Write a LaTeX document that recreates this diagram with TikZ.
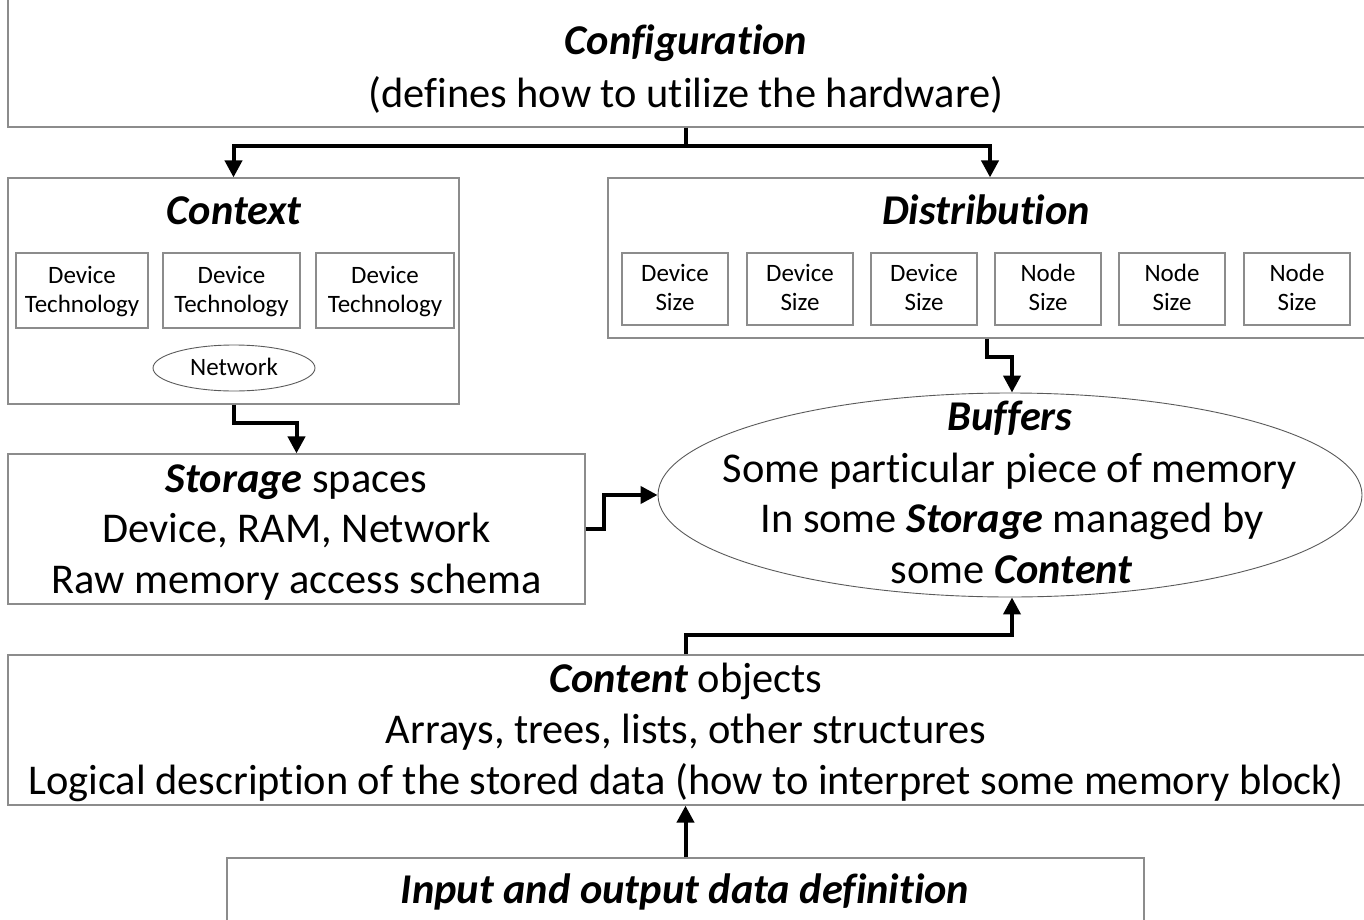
\documentclass[tikz,border=0pt]{standalone}
\usepackage{fontspec}
\setmainfont{Carlito}[Ligatures=NoCommon]
\usetikzlibrary{arrows.meta,shapes.geometric,calc}

\definecolor{boxline}{RGB}{140,140,140}
\definecolor{ovalline}{RGB}{90,90,90}

\tikzset{
  frame/.style={draw=boxline, line width=0.6pt, rectangle, inner sep=0pt},
  oval/.style={draw=ovalline, line width=0.45pt, ellipse, inner sep=0pt},
  big/.style={font=\fontsize{21.2}{25}\selectfont, anchor=base, inner sep=0pt},
  bigtitle/.style={font=\fontsize{21.2}{25}\selectfont\bfseries\itshape, anchor=base, inner sep=0pt},
  small/.style={font=\fontsize{12.5}{15}\selectfont, anchor=base, inner sep=0pt},
  flow/.style={draw=black, line width=2pt, -{Triangle[length=8.5pt,width=8.5pt]}},
}

\begin{document}
\begin{tikzpicture}[x=0.5pt,y=-0.5pt]
\useasboundingbox (0,0) rectangle (1364,920);
\clip (0,0) rectangle (1364,920);

% ---- configuration (top band) ----
\node[frame, minimum width=686pt, minimum height=93.5pt] (cfg) at (694,33.5) {};
\node[bigtitle] (cfgT) at (686,55) {Configuration};
\node[big] (cfgS) at (686,107) {(defines how to utilize the hardware)};

% ---- context ----
\node[frame, minimum width=225.5pt, minimum height=113pt] (ctx) at (233.5,291) {};
\node[bigtitle] (ctxT) at (234,224) {Context};
\node[frame, minimum width=66pt, minimum height=37.5pt] (dt1) at (82,290.5) {};
\node[frame, minimum width=68.5pt, minimum height=37.5pt] (dt2) at (231.5,290.5) {};
\node[frame, minimum width=69pt, minimum height=37.5pt] (dt3) at (385,290.5) {};
\foreach \cx/\nm in {82/a,231.5/b,385/c}{
  \node[small] (dtA\nm) at (\cx,283.5) {Device};
  \node[small] (dtB\nm) at (\cx,312.5) {Technology};
}
\node[oval, minimum width=81pt, minimum height=23pt] (net) at (234,368) {};
\node[small] (netT) at (234,375.5) {Network};

% ---- distribution ----
\node[frame, minimum width=382pt, minimum height=80pt] (dist) at (990,258) {};
\node[bigtitle] (distT) at (986,224) {Distribution};
\foreach \cx/\top/\nm in {675/Device/1,800/Device/2,924/Device/3,1048/Node/4,1172/Node/5,1297/Node/6}{
  \node[frame, minimum width=53pt, minimum height=36pt] (ds\nm) at (\cx,289) {};
  \node[small] (dsA\nm) at (\cx,281.5) {\top};
  \node[small] (dsB\nm) at (\cx,310.5) {Size};
}

% ---- storage ----
\node[frame, minimum width=288.5pt, minimum height=75pt] (sto) at (296.5,529) {};
\node[big] (stoA) at (296.5,492) {\textbf{\textit{Storage}} spaces};
\node[big] (stoB) at (296.5,542) {Device, RAM, Network};
\node[big] (stoC) at (296.5,593) {Raw memory access schema};

% ---- buffers ----
\node[oval, minimum width=352pt, minimum height=102pt] (buf) at (1010,495) {};
\node[bigtitle] (bufA) at (1010,430) {Buffers};
\node[big] (bufB) at (1010,482) {Some particular piece of memory};
\node[big] (bufC) at (1012,532) {In some \textbf{\textit{Storage}} managed by};
\node[big] (bufD) at (1012,583) {some \textbf{\textit{Content}}};

% ---- content ----
\node[frame, minimum width=686pt, minimum height=75pt] (cnt) at (694,730) {};
\node[big] (cntA) at (686,692) {\textbf{\textit{Content}} objects};
\node[big] (cntB) at (686,743) {Arrays, trees, lists, other structures};
\node[big] (cntC) at (686,794) {Logical description of the stored data (how to interpret some memory block)};

% ---- input / output ----
\node[frame, minimum width=458.5pt, minimum height=51pt] (inp) at (685.5,909) {};
\node[bigtitle] (inpT) at (685,903) {Input and output data definition};

% ---- connectors ----
\draw[flow] ([xshift=-4pt]cfg.south) -- ++(0,18) -| (ctx.north);
\draw[flow] ([xshift=-4pt]cfg.south) -- ++(0,18) -| (dist.north);
\draw[flow] ([xshift=-1.5pt]dist.south) -- ++(0,18) -| ([xshift=1pt]buf.north);
\draw[flow] (ctx.south) -- ++(0,18) -| (sto.north);
\draw[flow] (sto.east) -- ++(18,0) |- (buf.west);
\draw[flow] ([xshift=-4pt]cnt.north) -- ++(0,-19) -| ([xshift=1pt]buf.south);
\draw[flow] (inp.north) -- (inp.north |- cnt.south);
\end{tikzpicture}
\end{document}
